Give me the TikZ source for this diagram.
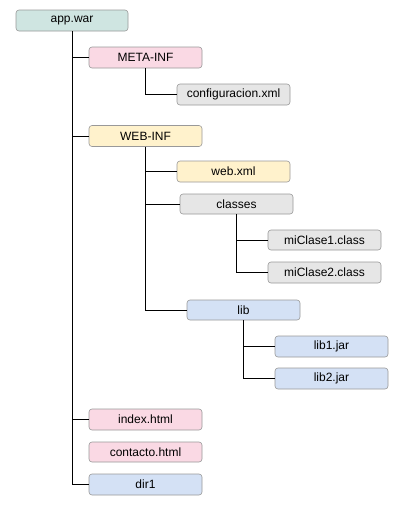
\documentclass[tikz,border=0pt]{standalone}
\usepackage{fontspec}
\setmainfont{Liberation Sans}
\definecolor{cteal}{HTML}{CFE5E1}
\definecolor{cpink}{HTML}{FAD9E4}
\definecolor{cyellow}{HTML}{FFF2CC}
\definecolor{cgray}{HTML}{E6E6E6}
\definecolor{cblue}{HTML}{D4E1F5}
\definecolor{cborder}{HTML}{999999}
\begin{document}
\begin{tikzpicture}[x=1pt,y=-1pt,
  box/.style={draw=cborder,line width=0.6pt,rounded corners=3pt,minimum width=113pt,minimum height=21pt,inner sep=0pt,font=\fontsize{12}{14}\selectfont},
  link/.style={draw=black,line width=0.9pt}]
\path[use as bounding box,fill=white] (0,0) rectangle (404,515);
\node[box,fill=cteal,minimum width=112pt] (app) at (72,20.5) {app.war};
\node[box,fill=cpink] (meta) at (145.5,57.5) {META-INF};
\node[box,fill=cgray] (conf) at (233.5,94.5) {configuracion.xml};
\node[box,fill=cyellow] (web) at (145.5,136) {WEB-INF};
\node[box,fill=cyellow] (webxml) at (233.5,171.5) {web.xml};
\node[box,fill=cgray,minimum height=20pt] (classes) at (236.5,204) {classes};
\node[box,fill=cgray,minimum height=20pt] (mi1) at (324.5,240) {miClase1.class};
\node[box,fill=cgray] (mi2) at (324.5,272.5) {miClase2.class};
\node[box,fill=cblue,minimum height=20pt] (lib) at (243.5,310) {lib};
\node[box,fill=cblue] (lib1) at (331.5,346.5) {lib1.jar};
\node[box,fill=cblue] (lib2) at (331.5,378.5) {lib2.jar};
\node[box,fill=cpink] (index) at (145.5,419.5) {index.html};
\node[box,fill=cpink,minimum height=20pt] (contacto) at (145.5,452) {contacto.html};
\node[box,fill=cblue] (dir1) at (145.5,484.5) {dir1};
\draw[link] (app.south) |- (meta.west);
\draw[link] (app.south) |- (web.west);
\draw[link] (app.south) |- (index.west);
\draw[link] (app.south) |- (dir1.west);
\draw[link] (meta.south) |- (conf.west);
\draw[link] (web.south) |- (webxml.west);
\draw[link] (web.south) |- (classes.west);
\draw[link] (web.south) |- (lib.west);
\draw[link] (classes.south) |- (mi1.west);
\draw[link] (classes.south) |- (mi2.west);
\draw[link] (lib.south) |- (lib1.west);
\draw[link] (lib.south) |- (lib2.west);
\end{tikzpicture}
\end{document}
